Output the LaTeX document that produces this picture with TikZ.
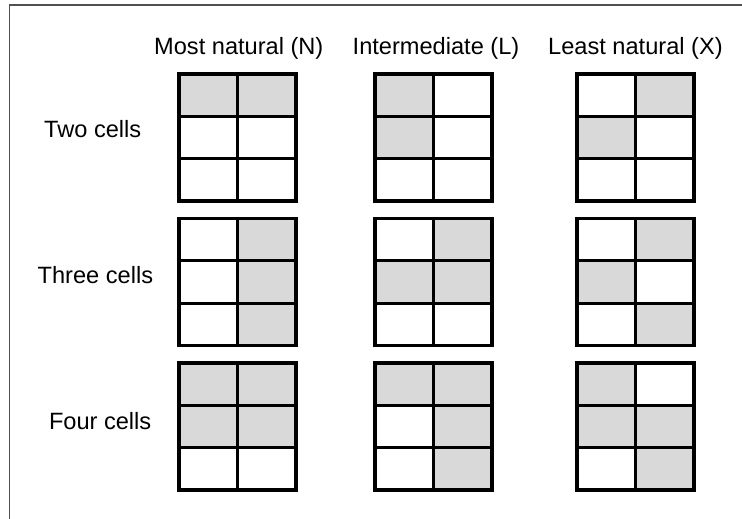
\documentclass[tikz,border=0pt]{standalone}
\usepackage{fontspec}
\setmainfont{Liberation Sans}
\definecolor{cellgray}{HTML}{D9D9D9}
\definecolor{framegray}{HTML}{505050}

% A 3x2 grid of cells with its top-left corner at (#1,#2); #3 lists the
% shaded cells as row/column pairs, counted from the top-left cell.
\newcommand\cellgrid[3]{%
  \foreach \r/\c in {#3} {%
    \fill[cellgray] ({#1+\c*58.5},{#2+\r*42.333}) rectangle ++(58.5,42.333);
  }
  \draw[gridline] (#1,#2) rectangle ++(117,127);
  \draw[gridline] ({#1+58.5},#2) -- ++(0,127);
  \draw[gridline] (#1,{#2+42.333}) -- ++(117,0);
  \draw[gridline] (#1,{#2+84.667}) -- ++(117,0);
}

\begin{document}
\begin{tikzpicture}[x=1pt,y=-1pt,
  txt/.style={font=\fontsize{23.6}{28}\selectfont, inner sep=0pt, anchor=base west},
  gridline/.style={line width=3.3pt, line cap=rect}]
\useasboundingbox (0,0) rectangle (742,519);

% frame
\draw[framegray, line width=1.3pt] (742,5) -- (9.5,5) -- (9.5,519);

% column headings
\node[txt] (hN) at (154,55) {Most natural (N)};
\node[txt] (hL) at (352.5,55) {Intermediate (L)};
\node[txt] (hX) at (548,55) {Least natural (X)};

% row headings
\node[txt] (rTwo)   at (44,137)   {Two cells};
\node[txt] (rThree) at (37.5,283.3) {Three cells};
\node[txt] (rFour)  at (48.8,429.3) {Four cells};

% two cells
\cellgrid{179}{74}{0/0,0/1}
\cellgrid{375}{74}{0/0,1/0}
\cellgrid{577}{74}{0/1,1/0}

% three cells
\cellgrid{179}{218.5}{0/1,1/1,2/1}
\cellgrid{375}{218.5}{0/1,1/0,1/1}
\cellgrid{577}{218.5}{0/1,1/0,2/1}

% four cells
\cellgrid{179}{363}{0/0,0/1,1/0,1/1}
\cellgrid{375}{363}{0/0,0/1,1/1,2/1}
\cellgrid{577}{363}{0/0,1/0,1/1,2/1}
\end{tikzpicture}
\end{document}
